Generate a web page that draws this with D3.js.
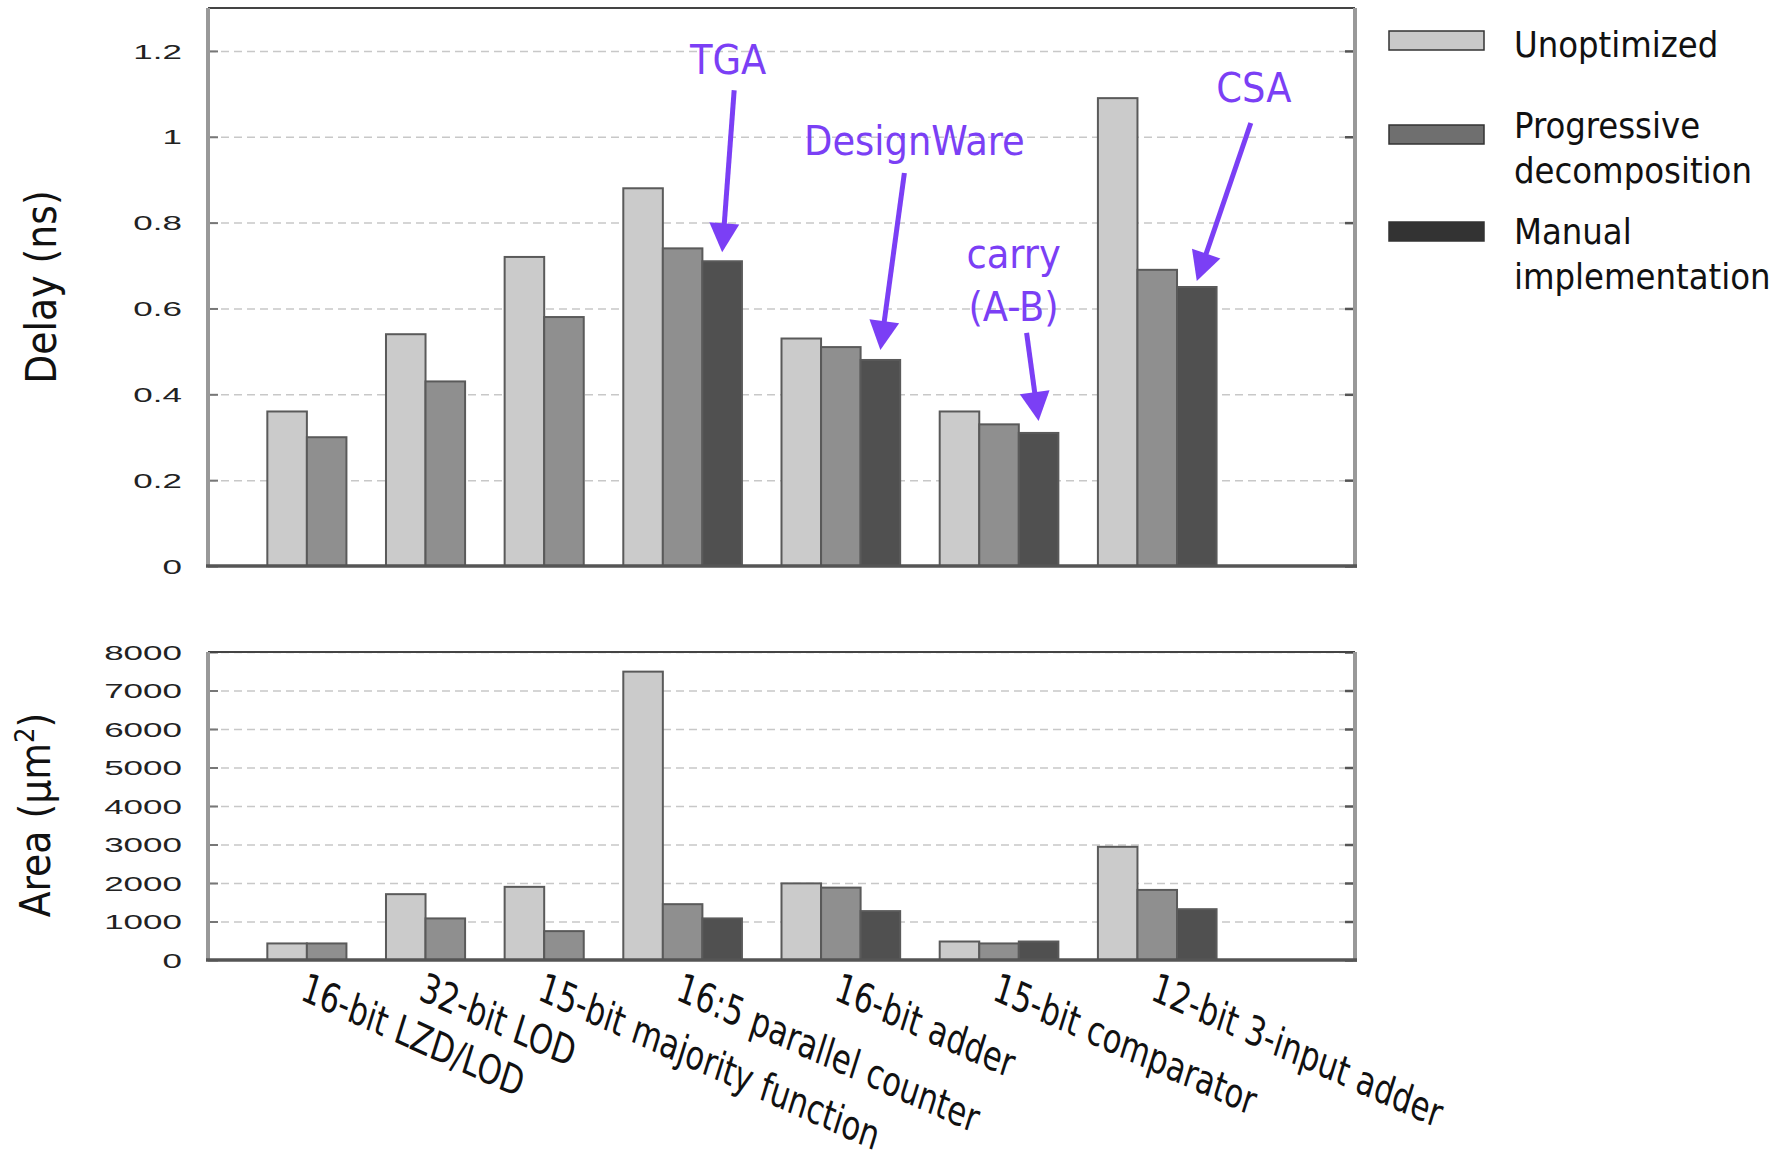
<!DOCTYPE html>
<html>
<head>
<meta charset="utf-8">
<script src="https://cdn.jsdelivr.net/npm/d3@7"></script>
<style>
  body { margin: 0; background: #fff; }
  svg { display: block; }
  .cond { font-family: "DejaVu Sans Condensed", "DejaVu Sans", sans-serif; font-stretch: condensed; }
  .tickfont { font-family: "Liberation Sans", Arial, sans-serif; font-size: 20px; fill: #222; }
</style>
</head>
<body>
<div id="chart"></div>
<script>
// data
var categories = ["16-bit LZD/LOD", "32-bit LOD", "15-bit majority function",
  "16:5 parallel counter", "16-bit adder", "15-bit comparator", "12-bit 3-input adder"];
var seriesNames = ["Unoptimized", "Progressive decomposition", "Manual implementation"];

var delayUnopt  = [0.36, 0.54, 0.72, 0.88, 0.53, 0.36, 1.09];
var delayProg   = [0.30, 0.43, 0.58, 0.74, 0.51, 0.33, 0.69];
var delayManual = [null, null, null, 0.71, 0.48, 0.31, 0.65];

var areaUnopt  = [430, 1710, 1900, 7490, 1990, 480, 2940];
var areaProg   = [430, 1080, 750, 1450, 1880, 430, 1820];
var areaManual = [null, null, null, 1080, 1270, 480, 1320];

var delayTicks = [0, 0.2, 0.4, 0.6, 0.8, 1, 1.2];
var areaTicks  = [0, 1000, 2000, 3000, 4000, 5000, 6000, 7000, 8000];

// annotations: text lines pointing at a (category, series) bar in the delay chart
var notes = [
  { cat: 3, ser: 2, lines: ["TGA"] },
  { cat: 4, ser: 2, lines: ["DesignWare"] },
  { cat: 5, ser: 2, lines: ["carry", "(A-B)"] },
  { cat: 6, ser: 2, lines: ["CSA"] }
];
// offsets of arrow tail / text relative to arrow tip
var noteLayout = [
  { gap: 9,  tail: [12, -162], text: [6, -178] },
  { gap: 10, tail: [24, -177], text: [34, -195] },
  { gap: 12, tail: [-12, -88], text: [-25, -153] },
  { gap: 6,  tail: [54, -158], text: [57, -179] }
];

var barFill = ["#cbcbcb", "#8f8f8f", "#505050"];
var legendFill = ["#c9c9c9", "#6f6f6f", "#333333"];
var purple = "#7b3ff5";

var W = 1787, H = 1162;
var x0 = 208, x1 = 1355;

var svg = d3.select("#chart").append("svg")
  .attr("width", W)
  .attr("height", H);

// bar slots: each group packs its bars, one empty slot between groups
var delaySeries = [delayUnopt, delayProg, delayManual];
var areaSeries = [areaUnopt, areaProg, areaManual];
var starts = [], counts = [];
var pos = 1.5;
categories.forEach(function(c, i) {
  var n = delaySeries.filter(function(s) { return s[i] != null; }).length;
  starts.push(pos); counts.push(n);
  pos += n + 1;
});
var totalUnits = pos - 1 + 3.5;

var x = d3.scaleLinear().domain([0, totalUnits]).range([x0, x1]);
var bw = x(1) - x(0);

function drawPanel(series, ticks, domainMax, yTop, yBot) {
  var y = d3.scaleLinear().domain([0, domainMax]).range([yBot, yTop]);
  var g = svg.append("g");

  // dashed grid + tick labels
  var grid = g.append("g")
    .attr("transform", "translate(" + x0 + ",0)")
    .call(d3.axisLeft(y).tickValues(ticks).tickSize(-(x1 - x0)).tickFormat(function(d) { return String(d); }));
  grid.select(".domain").remove();
  grid.selectAll(".tick line")
    .attr("stroke", "#c8c8c8")
    .attr("stroke-width", 1.5)
    .attr("stroke-dasharray", "8,5")
    .filter(function(d) { return d === 0; }).remove();
  grid.selectAll(".tick text")
    .attr("class", "tickfont")
    .attr("x", 0)
    .attr("dy", "0.36em")
    .attr("transform", "translate(-26,0) scale(1.75,1)")
    .style("text-anchor", "end");

  // short inner tick marks both sides
  g.append("g").attr("transform", "translate(" + x0 + ",0)")
    .call(d3.axisLeft(y).tickValues(ticks).tickSize(-10).tickFormat(""))
    .call(function(a) { a.select(".domain").remove(); a.selectAll("line").attr("stroke", "#777").attr("stroke-width", 2); });
  g.append("g").attr("transform", "translate(" + x1 + ",0)")
    .call(d3.axisRight(y).tickValues(ticks).tickSize(-10).tickFormat(""))
    .call(function(a) { a.select(".domain").remove(); a.selectAll("line").attr("stroke", "#555").attr("stroke-width", 2.5); });

  // bars
  categories.forEach(function(c, i) {
    var k = 0;
    series.forEach(function(s, j) {
      if (s[i] == null) return;
      g.append("rect")
        .attr("x", x(starts[i] + k))
        .attr("y", y(s[i]))
        .attr("width", bw)
        .attr("height", y(0) - y(s[i]))
        .attr("fill", barFill[j])
        .attr("stroke", "#5a5a5a")
        .attr("stroke-width", 2);
      k++;
    });
  });

  // frame
  g.append("line").attr("x1", x0).attr("x2", x1).attr("y1", yTop).attr("y2", yTop)
    .attr("stroke", "#444").attr("stroke-width", 2);
  g.append("line").attr("x1", x0).attr("x2", x0).attr("y1", yTop).attr("y2", yBot)
    .attr("stroke", "#999").attr("stroke-width", 4);
  g.append("line").attr("x1", x1).attr("x2", x1).attr("y1", yTop).attr("y2", yBot + 2)
    .attr("stroke", "#999").attr("stroke-width", 4);
  g.append("line").attr("x1", x0 - 2).attr("x2", x1 + 2).attr("y1", yBot).attr("y2", yBot)
    .attr("stroke", "#555").attr("stroke-width", 3.5);

  return y;
}

var yDelay = drawPanel(delaySeries, delayTicks, 1.3, 8, 566);
var yArea = drawPanel(areaSeries, areaTicks, 8000, 652, 960);

// y axis titles
svg.append("text")
  .attr("class", "cond")
  .attr("transform", "translate(56,287) rotate(-90)")
  .style("text-anchor", "middle")
  .style("font-size", "42px")
  .attr("fill", "#111")
  .text("Delay (ns)");

var areaTitle = svg.append("text")
  .attr("class", "cond")
  .attr("transform", "translate(50,815) rotate(-90)")
  .style("text-anchor", "middle")
  .style("font-size", "42px")
  .attr("fill", "#111");
areaTitle.append("tspan").text("Area (\u03bcm");
areaTitle.append("tspan").attr("dy", -16).style("font-size", "27px").text("2");
areaTitle.append("tspan").attr("dy", 16).text(")");

// category labels, rotated (figure was stretched vertically, so stretch too)
categories.forEach(function(c, i) {
  var cx = x(starts[i] + counts[i] / 2) - 8;
  svg.append("text")
    .attr("class", "cond")
    .attr("transform", "translate(" + cx + ",999) scale(1,1.2) rotate(20.5)")
    .style("font-size", "34px")
    .attr("fill", "#111")
    .text(c);
});

// legend
var legendRows = [
  { y: 31, lines: ["Unoptimized"], base: 57 },
  { y: 125, lines: ["Progressive", "decomposition"], base: 138 },
  { y: 222, lines: ["Manual", "implementation"], base: 244 }
];
legendRows.forEach(function(r, i) {
  svg.append("rect")
    .attr("x", 1389).attr("y", r.y)
    .attr("width", 95).attr("height", 19)
    .attr("fill", legendFill[i])
    .attr("stroke", "#333").attr("stroke-width", 1.5);
  r.lines.forEach(function(t, k) {
    svg.append("text")
      .attr("class", "cond")
      .attr("x", 1514)
      .attr("y", r.base + k * 45)
      .style("font-size", "36px")
      .attr("fill", "#111")
      .text(t);
  });
});

// annotations with arrows
function xCenter(cat, ser) {
  var k = 0;
  for (var j = 0; j < ser; j++) if (delaySeries[j][cat] != null) k++;
  return x(starts[cat] + k + 0.5);
}

notes.forEach(function(n, i) {
  var L = noteLayout[i];
  var tx = xCenter(n.cat, n.ser);
  var ty = yDelay(delaySeries[n.ser][n.cat]) - L.gap;
  var sx = tx + L.tail[0], sy = ty + L.tail[1];
  var dx = tx - sx, dy = ty - sy, len = Math.sqrt(dx * dx + dy * dy);
  var ux = dx / len, uy = dy / len;
  var bx = tx - ux * 29, by = ty - uy * 29;
  var px = -uy * 15, py = ux * 15;

  svg.append("line")
    .attr("x1", sx).attr("y1", sy)
    .attr("x2", bx + ux * 2).attr("y2", by + uy * 2)
    .attr("stroke", purple).attr("stroke-width", 5);
  svg.append("path")
    .attr("d", "M" + tx + "," + ty + "L" + (bx + px) + "," + (by + py) + "L" + (bx - px) + "," + (by - py) + "Z")
    .attr("fill", purple);

  n.lines.forEach(function(t, k) {
    svg.append("text")
      .attr("class", "cond")
      .attr("x", tx + L.text[0])
      .attr("y", ty + L.text[1] + k * 53)
      .style("text-anchor", "middle")
      .style("font-size", "41px")
      .attr("fill", purple)
      .text(t);
  });
});
</script>
</body>
</html>
